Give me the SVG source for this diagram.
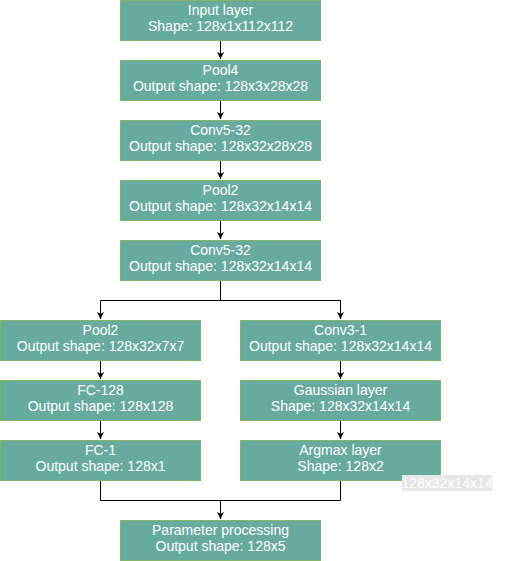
<svg xmlns="http://www.w3.org/2000/svg" width="521" height="561" viewBox="0 0 521 561">
  <style>
    .box { fill: #67ab9f; stroke: #82b366; stroke-width: 1; }
    .lbl { font-family: "Liberation Sans", Arial, sans-serif; font-size: 14px; fill: #ffffff; text-anchor: middle; }
    .edge { fill: none; stroke: #000000; stroke-width: 1; }
  </style>
  <defs>
    <marker id="arrow" markerWidth="8" markerHeight="8" viewBox="0 0 8 8" refX="7" refY="4" orient="auto" markerUnits="userSpaceOnUse">
      <path d="M0,0.5 L7,4 L0,7.5 L1.8,4 Z" fill="#000000"/>
    </marker>
  </defs>
  <rect width="521" height="561" fill="#ffffff"/>

  <g id="connectors">
    <path class="edge" d="M220.5,40 V59" marker-end="url(#arrow)"/>
    <path class="edge" d="M220.5,100 V119" marker-end="url(#arrow)"/>
    <path class="edge" d="M220.5,160 V179" marker-end="url(#arrow)"/>
    <path class="edge" d="M220.5,220 V239" marker-end="url(#arrow)"/>
    <path class="edge" d="M220.5,280 V300.5 H100.5 V319" marker-end="url(#arrow)"/>
    <path class="edge" d="M220.5,300.5 H340.5 V319" marker-end="url(#arrow)"/>
    <path class="edge" d="M100.5,360 V379" marker-end="url(#arrow)"/>
    <path class="edge" d="M100.5,420 V439" marker-end="url(#arrow)"/>
    <path class="edge" d="M340.5,360 V379" marker-end="url(#arrow)"/>
    <path class="edge" d="M340.5,420 V439" marker-end="url(#arrow)"/>
    <path class="edge" d="M100.5,480 V500.5 H340.5 V480"/>
    <path class="edge" d="M220.5,500.5 V519" marker-end="url(#arrow)"/>
  </g>

  <g id="input-layer">
    <rect class="box" x="120.5" y="0.5" width="200" height="40"/>
    <text class="lbl" x="220.5" y="14.5">Input layer</text>
    <text class="lbl" x="220.5" y="30.5">Shape: 128x1x112x112</text>
  </g>
  <g id="pool4">
    <rect class="box" x="120.5" y="60.5" width="200" height="40"/>
    <text class="lbl" x="220.5" y="74.5">Pool4</text>
    <text class="lbl" x="220.5" y="90.5">Output shape: 128x3x28x28</text>
  </g>
  <g id="conv5-32-a">
    <rect class="box" x="120.5" y="120.5" width="200" height="40"/>
    <text class="lbl" x="220.5" y="134.5">Conv5-32</text>
    <text class="lbl" x="220.5" y="150.5">Output shape: 128x32x28x28</text>
  </g>
  <g id="pool2-a">
    <rect class="box" x="120.5" y="180.5" width="200" height="40"/>
    <text class="lbl" x="220.5" y="194.5">Pool2</text>
    <text class="lbl" x="220.5" y="210.5">Output shape: 128x32x14x14</text>
  </g>
  <g id="conv5-32-b">
    <rect class="box" x="120.5" y="240.5" width="200" height="40"/>
    <text class="lbl" x="220.5" y="254.5">Conv5-32</text>
    <text class="lbl" x="220.5" y="270.5">Output shape: 128x32x14x14</text>
  </g>

  <g id="pool2-b">
    <rect class="box" x="0.5" y="320.5" width="200" height="40"/>
    <text class="lbl" x="100.5" y="334.5">Pool2</text>
    <text class="lbl" x="100.5" y="350.5">Output shape: 128x32x7x7</text>
  </g>
  <g id="fc-128">
    <rect class="box" x="0.5" y="380.5" width="200" height="40"/>
    <text class="lbl" x="100.5" y="394.5">FC-128</text>
    <text class="lbl" x="100.5" y="410.5">Output shape: 128x128</text>
  </g>
  <g id="fc-1">
    <rect class="box" x="0.5" y="440.5" width="200" height="40"/>
    <text class="lbl" x="100.5" y="454.5">FC-1</text>
    <text class="lbl" x="100.5" y="470.5">Output shape: 128x1</text>
  </g>

  <g id="conv3-1">
    <rect class="box" x="240.5" y="320.5" width="200" height="40"/>
    <text class="lbl" x="340.5" y="334.5">Conv3-1</text>
    <text class="lbl" x="340.5" y="350.5">Output shape: 128x32x14x14</text>
  </g>
  <g id="gaussian-layer">
    <rect class="box" x="240.5" y="380.5" width="200" height="40"/>
    <text class="lbl" x="340.5" y="394.5">Gaussian layer</text>
    <text class="lbl" x="340.5" y="410.5">Shape: 128x32x14x14</text>
  </g>
  <g id="argmax-layer">
    <rect class="box" x="240.5" y="440.5" width="200" height="40"/>
    <text class="lbl" x="340.5" y="454.5">Argmax layer</text>
    <text class="lbl" x="340.5" y="470.5">Shape: 128x2</text>
  </g>
  <g id="shape-note">
    <rect x="402" y="475" width="90" height="16" fill="#e6e6e6"/>
    <text class="lbl" x="447" y="487.5">128x32x14x14</text>
  </g>

  <g id="parameter-processing">
    <rect class="box" x="120.5" y="520.5" width="200" height="40"/>
    <text class="lbl" x="220.5" y="534.5">Parameter processing</text>
    <text class="lbl" x="220.5" y="550.5">Output shape: 128x5</text>
  </g>
</svg>
